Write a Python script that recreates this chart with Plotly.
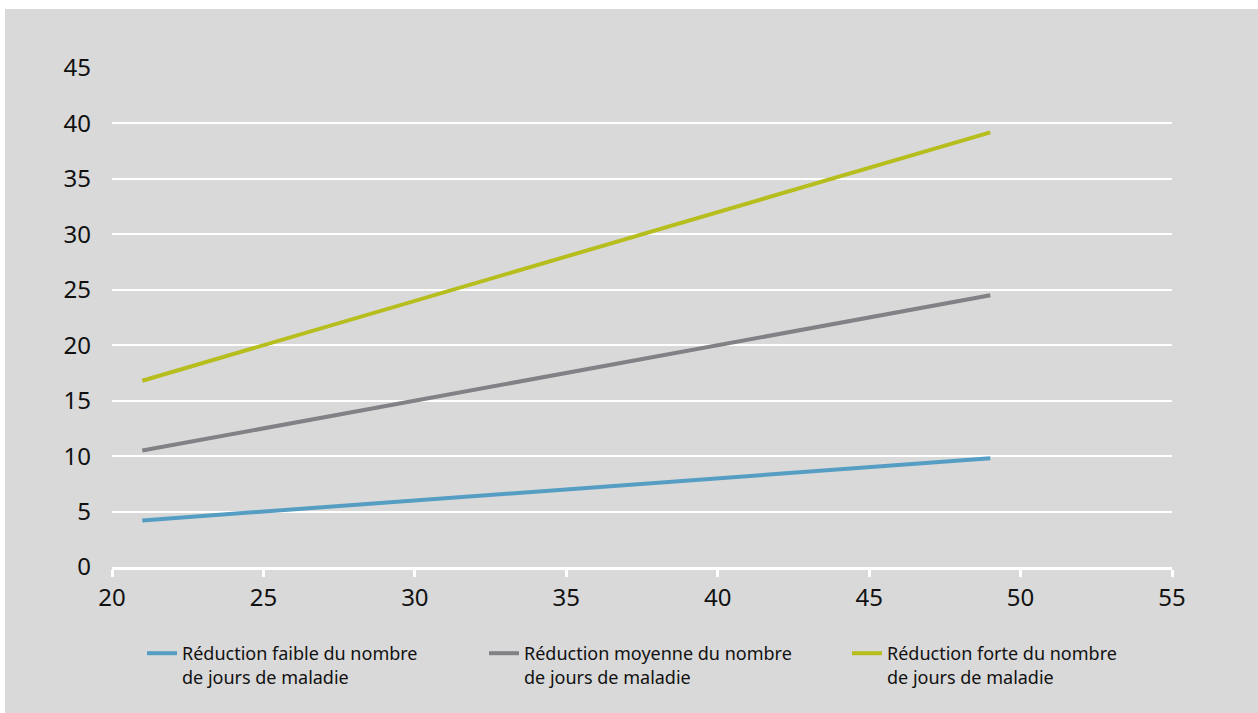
import plotly.graph_objects as go

# Durée (x) et réduction correspondante (y) pour chaque scénario
x_vals = [21, 25, 30, 35, 40, 45, 49]
faible = [4.2, 5.0, 6.0, 7.0, 8.0, 9.0, 9.8]
moyenne = [10.5, 12.5, 15.0, 17.5, 20.0, 22.5, 24.5]
forte = [16.8, 20.0, 24.0, 28.0, 32.0, 36.0, 39.2]

series_names = [
    "Réduction faible du nombre<br>de jours de maladie",
    "Réduction moyenne du nombre<br>de jours de maladie",
    "Réduction forte du nombre<br>de jours de maladie",
]
series_colors = ["#559dc3", "#828286", "#b6be1e"]
series_values = [faible, moyenne, forte]

BG = "#d9d9d9"
W, H = 1258, 713
L, R, T, B = 112, 86, 68, 146
PW, PH = W - L - R, H - T - B
FONT = "Noto Sans"

# one legend box per series, laid out side by side below the axis
legend_ids = ["legend", "legend2", "legend3"]
legend_x_px = [30, 372, 735]

fig = go.Figure()
for name, color, vals, lid in zip(series_names, series_colors, series_values, legend_ids):
    fig.add_trace(go.Scatter(
        x=x_vals, y=vals, mode="lines", name=name,
        line=dict(color=color, width=4), legend=lid,
    ))

# white strips along top and left edge of the page
fig.add_shape(type="rect", xref="paper", yref="paper",
              x0=-L / PW, x1=(W - L) / PW,
              y0=(H - B - 9) / PH, y1=(H - B) / PH,
              fillcolor="white", line_width=0, layer="above")
fig.add_shape(type="rect", xref="paper", yref="paper",
              x0=-L / PW, x1=(5 - L) / PW,
              y0=-B / PH, y1=(H - B) / PH,
              fillcolor="white", line_width=0, layer="above")

legend_style = dict(
    orientation="h", xanchor="left", yanchor="top", y=-68 / PH,
    bgcolor="rgba(0,0,0,0)", font=dict(size=18, family=FONT, color="#111111"),
    valign="top",
)
fig.update_layout(**{
    lid: dict(legend_style, x=px / PW) for lid, px in zip(legend_ids, legend_x_px)
})

fig.update_layout(
    width=W, height=H,
    margin=dict(l=L, r=R, t=T, b=B, pad=0, autoexpand=False),
    paper_bgcolor=BG, plot_bgcolor=BG,
    font=dict(family=FONT, color="#111111", size=18),
    showlegend=True,
    xaxis=dict(
        range=[20, 55], dtick=5, tick0=20,
        showgrid=False, zeroline=False,
        showline=True, linecolor="white", linewidth=3,
        ticks="outside", tickcolor="white", ticklen=7, tickwidth=3,
        tickfont=dict(size=24, family=FONT, color="#111111"),
        ticklabelstandoff=0,
    ),
    yaxis=dict(
        range=[0, 45], dtick=5, tick0=0,
        showgrid=True, gridcolor="white", gridwidth=2,
        zeroline=False, showline=False, ticks="",
        tickfont=dict(size=24, family=FONT, color="#111111"),
        ticklabelstandoff=20,
    ),
)

fig.write_html("out.html")
